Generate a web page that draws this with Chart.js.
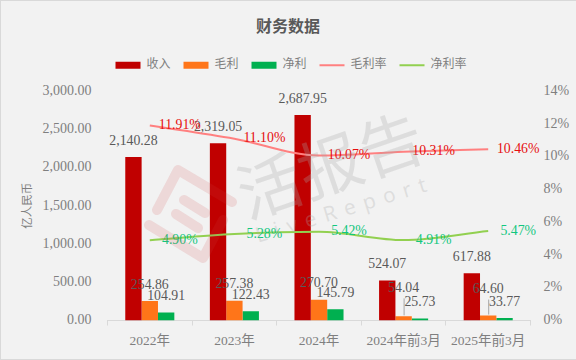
<!DOCTYPE html>
<html>
<head>
<meta charset="utf-8">
<script src="https://cdn.jsdelivr.net/npm/chart.js@4"></script>
<style>
html, body { margin: 0; padding: 0; background: #f2f2f2; }
#wrap { width: 576px; height: 360px; position: relative; }
canvas { display: block; }
#frame { position: absolute; left: 0; top: 0; width: 575px; height: 358px; border: 1px solid #d9d9d9; border-right: 0; pointer-events: none; }
</style>
</head>
<body>
<div id="wrap">
  <canvas id="c" width="576" height="360"></canvas>
  <div id="frame"></div>
</div>
<script>
const categories = ['2022年', '2023年', '2024年', '2024年前3月', '2025年前3月']
const revenue = [2140.28, 2319.05, 2687.95, 524.07, 617.88]
const grossProfit = [254.86, 257.38, 270.70, 54.04, 64.60]
const netProfit = [104.91, 122.43, 145.79, 25.73, 33.77]
const grossMargin = [11.91, 11.10, 10.07, 10.31, 10.46]
const netMargin = [4.90, 5.28, 5.42, 4.91, 5.47]

// extra lift of the gross profit labels on the two short bars (they have leader lines)
const grossLift = [0, 0, 0, 12, 10]

const FONT = '"Liberation Serif", "Noto Sans CJK SC"'
const money = v => v.toLocaleString('en-US', { minimumFractionDigits: 2, maximumFractionDigits: 2 })

// opaque canvas so text gets the same subpixel look as the picture
const canvas = document.getElementById('c')
canvas.getContext('2d', { alpha: false })

const background = {
  id: 'background',
  beforeInit(chart) {
    // room under the legend, and nudge it a bit to the right
    const legend = chart.legend
    const fit = legend.fit
    legend.fit = function () { fit.call(this); this.height += 10 }
    const draw = legend.draw
    legend.draw = function () {
      chart.ctx.save()
      chart.ctx.translate(3, 0)
      draw.call(this)
      chart.ctx.restore()
    }
  },
  beforeDraw(chart) {
    chart.ctx.fillStyle = '#f2f2f2'
    chart.ctx.fillRect(0, 0, chart.width, chart.height)
  }
}

const valueLabels = {
  id: 'valueLabels',
  afterDatasetsDraw(chart) {
    const ctx = chart.ctx
    ctx.save()
    ctx.font = '13.8px ' + FONT
    ctx.textBaseline = 'middle'
    ctx.textAlign = 'center'
    chart.data.datasets.forEach((ds, i) => {
      const meta = chart.getDatasetMeta(i)
      meta.data.forEach((el, j) => {
        const v = ds.data[j]
        if (ds.type === 'line') {
          ctx.fillStyle = ds.labelColor
          ctx.fillText(v.toFixed(2) + '%', el.x + 30, el.y)
        } else {
          const lift = i === 1 ? grossLift[j] : 0
          if (lift) {
            ctx.strokeStyle = '#a6a6a6'
            ctx.lineWidth = 1
            ctx.beginPath()
            ctx.moveTo(el.x + 0.5, el.y - 1)
            ctx.lineTo(el.x + 0.5, el.y - lift - 6)
            ctx.stroke()
          }
          ctx.fillStyle = '#595959'
          ctx.fillText(money(v), el.x, el.y - 16 - lift)
        }
      })
    })
    ctx.restore()
  }
}

// pale 活报告 stamp that sits over the whole plot
const watermark = {
  id: 'watermark',
  afterDraw(chart) {
    const ctx = chart.ctx
    ctx.save()
    ctx.fillStyle = 'rgba(170,170,170,0.28)'
    ctx.textAlign = 'center'
    ctx.textBaseline = 'middle'
    ctx.save()
    ctx.translate(330, 165)
    ctx.rotate(-19 * Math.PI / 180)
    ctx.font = '64px "Noto Sans CJK SC"'
    ctx.fillText('活报告', 0, 0)
    ctx.restore()
    ctx.translate(345, 210)
    ctx.rotate(-17 * Math.PI / 180)
    ctx.font = '21px "Noto Sans", sans-serif'
    ctx.letterSpacing = '8px'
    ctx.fillText('LiveReport', 0, 0)
    ctx.restore()

    ctx.save()
    ctx.strokeStyle = 'rgba(205,70,70,0.15)'
    ctx.lineCap = 'round'
    ctx.lineJoin = 'round'
    ctx.lineWidth = 10
    ctx.beginPath()
    ctx.moveTo(157, 210)
    ctx.lineTo(178, 170)
    ctx.lineTo(232, 202)
    ctx.moveTo(149, 225)
    ctx.lineTo(203, 258)
    ctx.lineTo(223, 220)
    ctx.moveTo(184, 200)
    ctx.lineTo(205, 213)
    ctx.moveTo(176, 214)
    ctx.lineTo(198, 228)
    ctx.stroke()
    ctx.restore()
  }
}

new Chart(canvas, {
  data: {
    labels: categories,
    datasets: [
      { type: 'bar', label: '收入', data: revenue, backgroundColor: '#c00000', yAxisID: 'y', order: 2 },
      { type: 'bar', label: '毛利', data: grossProfit, backgroundColor: '#ff7519', yAxisID: 'y', order: 2 },
      { type: 'bar', label: '净利', data: netProfit, backgroundColor: '#00b050', yAxisID: 'y', order: 2 },
      { type: 'line', label: '毛利率', data: grossMargin, borderColor: '#ff8080', backgroundColor: '#ff8080', labelColor: '#e60f0f',
        borderWidth: 2, pointRadius: 0, cubicInterpolationMode: 'monotone', yAxisID: 'y1', order: 1 },
      { type: 'line', label: '净利率', data: netMargin, borderColor: '#92d050', backgroundColor: '#92d050', labelColor: '#12c77f',
        borderWidth: 2, pointRadius: 0, cubicInterpolationMode: 'monotone', yAxisID: 'y1', order: 1 }
    ]
  },
  options: {
    responsive: false,
    animation: false,
    layout: { padding: { top: 0, left: 0, right: 0, bottom: 0 } },
    datasets: { bar: { categoryPercentage: 0.58, barPercentage: 1 } },
    plugins: {
      tooltip: { enabled: false },
      title: {
        display: true,
        text: '财务数据',
        color: '#595959',
        font: { family: FONT, size: 16, weight: 'bold' },
        padding: { top: 18, bottom: 9 }
      },
      legend: {
        position: 'top',
        labels: {
          font: { family: FONT, size: 12 },
          color: '#7f7f7f',
          usePointStyle: true,
          pointStyleWidth: 25,
          boxHeight: 7,
          padding: 13,
          generateLabels(chart) {
            return chart.data.datasets.map((ds, i) => ({
              text: ds.label,
              fillStyle: ds.backgroundColor,
              strokeStyle: ds.type === 'line' ? ds.borderColor : ds.backgroundColor,
              lineWidth: ds.type === 'line' ? 2 : 0,
              pointStyle: ds.type === 'line' ? 'line' : 'rect',
              fontColor: '#7f7f7f',
              datasetIndex: i
            }))
          }
        }
      }
    },
    scales: {
      x: {
        offset: true,
        afterFit(s) { s.height = 39.5 },
        grid: { drawOnChartArea: false, color: '#d9d9d9', tickLength: 5 },
        border: { color: '#d9d9d9' },
        ticks: { color: '#7f7f7f', font: { family: FONT, size: 13.5 }, padding: 8, maxRotation: 0, autoSkip: false }
      },
      y: {
        position: 'left',
        min: 0,
        max: 3000,
        afterFit(s) { s.width = 107.5 },
        grid: { display: false, drawTicks: false },
        border: { display: false },
        ticks: { stepSize: 500, color: '#7f7f7f', padding: 16, font: { family: FONT, size: 14 }, callback: v => money(v) },
        title: { display: true, text: '亿人民币', color: '#7f7f7f', font: { family: FONT, size: 11.5 }, padding: { top: 21, bottom: 0 } }
      },
      y1: {
        position: 'right',
        min: 0,
        max: 14,
        afterFit(s) { s.width = 45.5 },
        grid: { display: false, drawTicks: false },
        border: { display: false },
        ticks: { stepSize: 2, color: '#7f7f7f', padding: 13, font: { family: FONT, size: 14 }, callback: v => v + '%' }
      }
    }
  },
  plugins: [background, valueLabels, watermark]
})
</script>
</body>
</html>
